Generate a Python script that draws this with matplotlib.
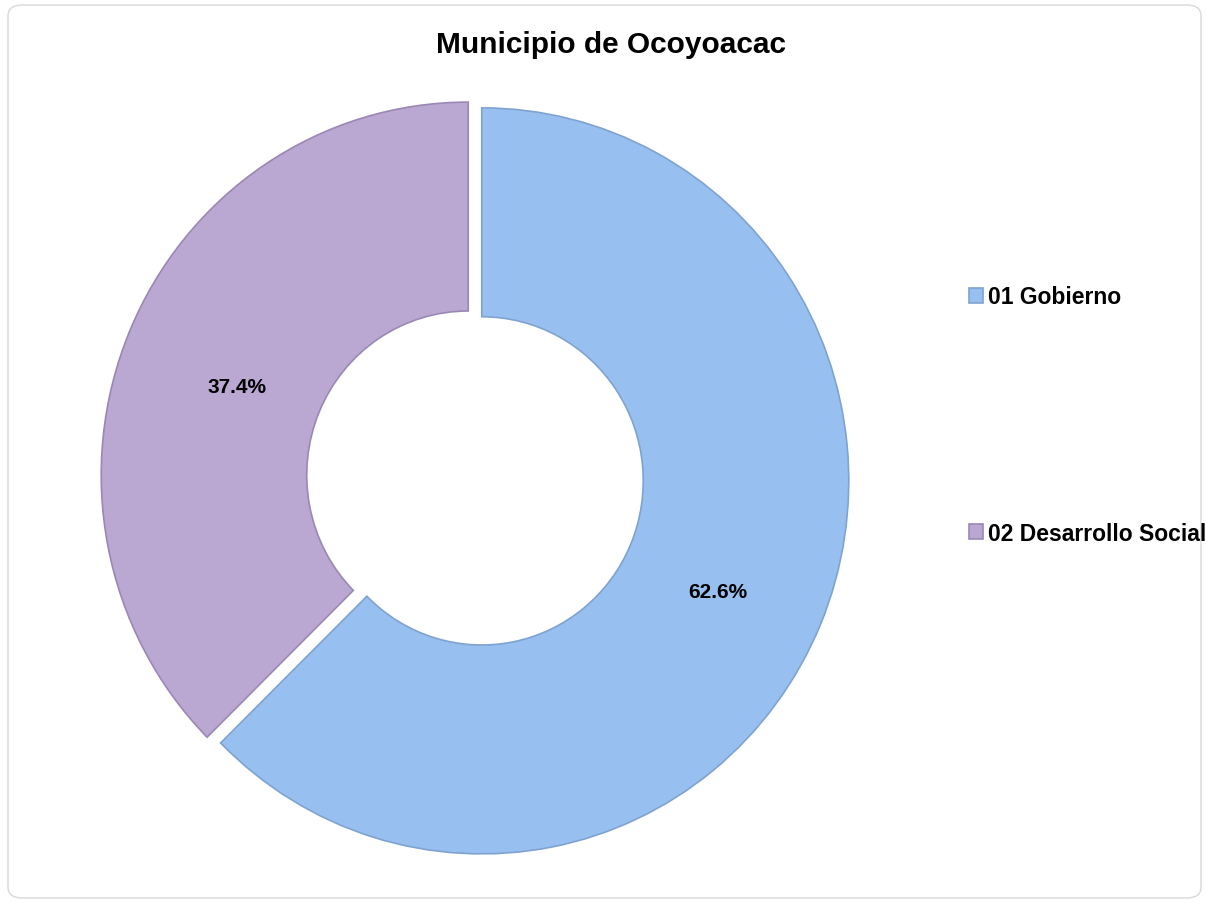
import matplotlib
matplotlib.use("Agg")
import matplotlib.pyplot as plt
from matplotlib.patches import FancyBboxPatch
from matplotlib.transforms import ScaledTranslation

categories = ["01 Gobierno", "02 Desarrollo Social"]
values = [62.6, 37.4]
colors = ["#97BFEF", "#BAA8D3"]
edge_colors = ["#7FA3D0", "#9A88B4"]
title = "Municipio de Ocoyoacac"

plt.rcParams['font.family'] = ['Liberation Sans', 'DejaVu Sans']

W, H = 1207, 903
fig = plt.figure(figsize=(W / 100, H / 100), dpi=100)

# rounded border
border = FancyBboxPatch((8 / W, 4 / H), (W - 14) / W, (H - 10) / H,
                        boxstyle="round,pad=0,rounding_size=0.012",
                        transform=fig.transFigure, facecolor="white",
                        edgecolor="#D9D9D9", linewidth=1.0, zorder=0)
fig.patches.append(border)

cx, cy, rx, ry = 475, 479, 367, 373
ax = fig.add_axes([(cx - rx) / W, (H - cy - ry) / H, 2 * rx / W, 2 * ry / H])
ax.set_zorder(1)
wedges, texts, autotexts = ax.pie(
    values, colors=colors, startangle=90, counterclock=False,
    explode=[0.02, 0.02], radius=1.0,
    wedgeprops=dict(width=0.56, linewidth=0),
    autopct="%.1f%%", pctdistance=0.69,
    textprops=dict(fontsize=15, fontweight="bold", color="black"))
for w, ec in zip(wedges, edge_colors):
    w.set_edgecolor(ec)
    w.set_linewidth(1.2)
shift = ScaledTranslation(2 / 100, -11 / 100, fig.dpi_scale_trans)
for t in autotexts:
    t.set_transform(t.get_transform() + shift)
ax.set_xlim(-1, 1)
ax.set_ylim(-1, 1)
ax.set_aspect("auto")
ax.axis("off")

fig.text(611 / W, 1 - 45 / H, title, ha="center", va="center",
         fontsize=21.5, fontweight="bold")

leg = fig.legend(wedges, categories, loc="center left",
                 bbox_to_anchor=(958 / W, 1 - 416 / H),
                 frameon=False, handlelength=0.6, handleheight=0.6,
                 handletextpad=0.2, labelspacing=9.3,
                 prop=dict(size=16.5, weight="bold"), borderpad=0)

fig.savefig("out.png", dpi=100, facecolor="white")
